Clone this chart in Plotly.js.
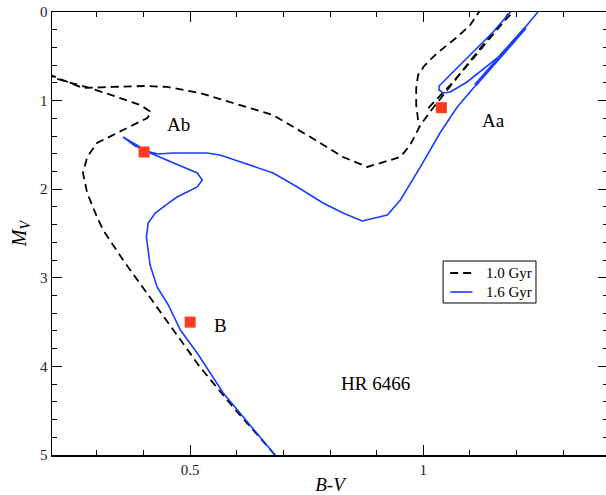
<!DOCTYPE html>
<html>
<head>
<meta charset="utf-8">
<script src="https://cdn.plot.ly/plotly-3.0.1.min.js"></script>
<style>html,body{margin:0;padding:0;background:#fff;overflow:hidden;}#chart{width:608px;height:495px;}</style>
</head>
<body>
<div id="chart"></div>
<script>
// 1.0 Gyr isochrone (dashed) — segments separated by null
const iso10_bv = [0.682,0.592,0.521,0.464,0.408,0.356,0.313,0.300,0.279,0.270,0.279,0.300,0.356,0.408,0.416,0.393,0.343,0.285,0.236,0.206,0.189,
  0.189,0.206,0.270,0.333,0.403,0.451,0.521,0.592,0.678,0.758,0.828,0.880,0.951,0.972,0.994,1.021,1.052,1.094,1.150,1.193,1.204,
  null,
  0.989,0.985,0.985,0.989,1.002,1.030,1.073,1.101,1.118,1.127,
  null,
  1.011,1.058,1.101,1.144,1.172,1.182];
const iso10_mv = [5.0,4.458,4.007,3.589,3.172,2.799,2.460,2.314,2.043,1.817,1.637,1.479,1.332,1.196,1.129,1.050,0.959,0.858,0.790,0.745,0.711,
  0.688,0.722,0.858,0.846,0.835,0.846,0.914,1.027,1.163,1.411,1.637,1.749,1.637,1.501,1.275,1.084,0.880,0.598,0.226,0.0,-0.07,
  null,
  1.219,1.050,0.858,0.711,0.609,0.463,0.282,0.147,0.011,-0.045,
  null,
  1.084,0.824,0.564,0.293,0.113,0.02];

// 1.6 Gyr isochrone (solid blue)
const iso16_bv = [0.682,0.571,0.515,0.479,0.453,0.429,0.414,0.410,0.406,0.410,0.425,0.457,0.472,0.515,0.526,0.515,0.464,0.414,0.356,
  0.382,0.414,0.431,0.464,0.536,0.564,0.614,0.678,0.730,0.785,0.828,0.869,0.923,0.951,0.994,1.036,1.073,1.116,1.159,1.193,1.245,1.253,
  null,
  1.191,1.150,1.094,1.043,1.034,1.034,1.043,1.058,1.094,1.159,1.219];
const iso16_mv = [5.0,4.300,3.849,3.589,3.307,3.104,2.856,2.686,2.540,2.381,2.269,2.144,2.088,1.975,1.896,1.817,1.704,1.591,1.411,
  1.512,1.580,1.603,1.591,1.591,1.614,1.704,1.817,1.975,2.156,2.269,2.359,2.291,2.122,1.749,1.366,1.072,0.801,0.542,0.339,0.011,-0.045,
  null,
  -0.023,0.226,0.519,0.790,0.835,0.880,0.914,0.903,0.790,0.519,0.181];

// thick clump segment of the 1.6 Gyr track
const clump_bv = [1.112,1.219];
const clump_mv = [0.824,0.181];

// Components of HR 6466
const star_names = ['Ab','Aa','B'];
const star_bv = [0.401,1.039,0.500];
const star_mv = [1.58,1.08,3.50];
const label_bv = [0.474,1.150,0.564];
const label_mv = [1.27,1.22,3.54];

// legend
const legend_labels = ['1.0 Gyr','1.6 Gyr'];

const blue = '#1a3dff';
const serif = 'Liberation Serif, Times New Roman, serif';
const xr = [0.2035,1.3965];
const yr = [5,0];

const traces = [
  {x: iso10_bv, y: iso10_mv, mode:'lines', name:legend_labels[0], connectgaps:false,
   line:{color:'#000', width:1.8, dash:'8px,5px'}},
  {x: iso16_bv, y: iso16_mv, mode:'lines', name:legend_labels[1], connectgaps:false,
   line:{color:blue, width:1.6}},
  {x: clump_bv, y: clump_mv, mode:'lines',
   line:{color:blue, width:3.2}},
  {x: star_bv, y: star_mv, mode:'markers',
   marker:{symbol:'square', size:11, color:'#ff3a1f'}},
  // invisible trace to anchor mirror axes (top/right ticks)
  {x:[0.5], y:[2], xaxis:'x2', yaxis:'y2', mode:'markers', marker:{opacity:0}, hoverinfo:'skip'}
];

const annotations = star_names.map((n,i)=>({x:label_bv[i], y:label_mv[i], text:n, showarrow:false,
  xref:'x', yref:'y', font:{family:serif, size:19, color:'#000'}}));
annotations.push({x:0.897, y:4.19, text:'HR 6466', showarrow:false, xref:'x', yref:'y',
  font:{family:serif, size:19, color:'#000'}});
// legend texts
annotations.push({x:0.7776, y:0.4108, xref:'paper', yref:'paper', xanchor:'left', yanchor:'middle',
  text:legend_labels[0], showarrow:false, font:{family:serif, size:15, color:'#000'}});
annotations.push({x:0.7776, y:0.3679, xref:'paper', yref:'paper', xanchor:'left', yanchor:'middle',
  text:legend_labels[1], showarrow:false, font:{family:serif, size:15, color:'#000'}});

const shapes = [
  {type:'rect', xref:'paper', yref:'paper', x0:0.7034, x1:0.8705, y0:0.3431, y1:0.4379,
   line:{color:'#000', width:1}, fillcolor:'#fff', layer:'above'},
  {type:'line', xref:'paper', yref:'paper', x0:0.7161, x1:0.7543, y0:0.4108, y1:0.4108,
   line:{color:'#000', width:1.8, dash:'8px,5px'}},
  {type:'line', xref:'paper', yref:'paper', x0:0.7161, x1:0.7561, y0:0.3679, y1:0.3679,
   line:{color:blue, width:1.6}}
];

const axbase = {showgrid:false, zeroline:false, tickcolor:'#000', ticks:'inside', ticklen:10};
const layout = {
  width:608, height:495,
  margin:{l:52, r:0, t:12, b:40},
  paper_bgcolor:'#fff', plot_bgcolor:'#fff',
  font:{family:serif, color:'#000'},
  showlegend:false,
  xaxis:Object.assign({}, axbase, {range:xr, showline:true, linecolor:'#000', linewidth:1.5,
    mirror:true, tick0:0, dtick:0.5,
    tickfont:{family:serif, size:15, color:'#222'},
    minor:{dtick:0.1, ticks:'inside', ticklen:5, tickcolor:'#000', showgrid:false},
    title:{text:'<i>B-V</i>', font:{family:serif, size:19, color:'#000'}, standoff:4}}),
  yaxis:Object.assign({}, axbase, {range:yr, showline:true, linecolor:'#000', linewidth:1.5,
    mirror:true, tick0:0, dtick:1,
    tickfont:{family:serif, size:15, color:'#222'},
    minor:{dtick:0.2, ticks:'inside', ticklen:5, tickcolor:'#000', showgrid:false},
    title:{text:'<i>M<sub>V</sub></i>', font:{family:serif, size:20, color:'#000'}, standoff:8}}),
  xaxis2:Object.assign({}, axbase, {range:xr, overlaying:'x', side:'top', anchor:'y2',
    showline:false, showticklabels:false, tick0:0, dtick:0.5,
    minor:{dtick:0.1, ticks:'inside', ticklen:5, tickcolor:'#000', showgrid:false}}),
  yaxis2:Object.assign({}, axbase, {range:yr, overlaying:'y', side:'right', anchor:'x2',
    showline:false, showticklabels:false, tick0:0, dtick:1,
    minor:{dtick:0.2, ticks:'inside', ticklen:5, tickcolor:'#000', showgrid:false}}),
  annotations: annotations,
  shapes: shapes
};

Plotly.newPlot('chart', traces, layout, {staticPlot:true, displayModeBar:false});
</script>
</body>
</html>
